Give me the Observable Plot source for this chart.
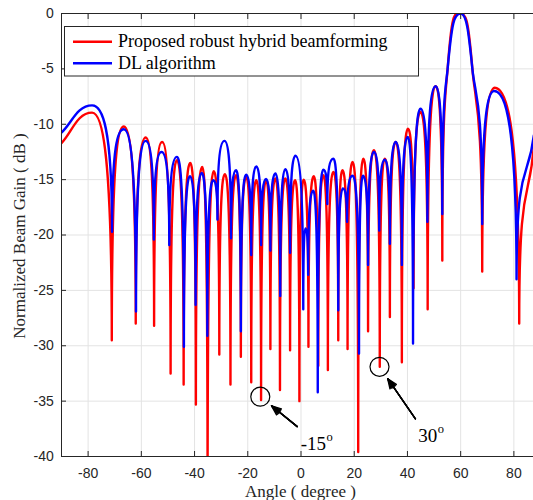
<!DOCTYPE html>
<html><head><meta charset="utf-8">
<script src="https://cdn.jsdelivr.net/npm/d3@7"></script>
<script src="https://cdn.jsdelivr.net/npm/@observablehq/plot@0.6"></script>
<style>
html,body{margin:0;padding:0;background:#fff;overflow:hidden;}
#wrap{position:relative;width:533px;height:500px;overflow:hidden;background:#fff;}
#wrap svg{max-width:none !important;}
#overlay{position:absolute;left:0;top:0;pointer-events:none;}
</style></head><body><div id="wrap"></div>
<script>
// ---- data ----
const seriesNames = ["Proposed robust hybrid beamforming", "DL algorithm"];

// key points of each curve: alternating nulls and lobe peaks (degrees, dB)
const redAngles = [-90, -78.5, -71.1, -66.6, -62.1, -58.4, -55.2, -52.2, -49.0, -46.6, -44.1, -41.6, -39.5, -37.1, -35.1, -32.8, -30.7, -28.6, -26.5, -24.4, -22.6, -20.6, -18.7, -16.8, -15.0, -13.1, -11.5, -9.6, -7.9, -5.9, -4.1, -2.2, -0.6, 1.0, 2.8, 4.8, 6.5, 8.4, 10.1, 12.2, 14.0, 15.6, 17.5, 19.4, 21.5, 23.4, 25.2, 27.4, 29.6, 31.5, 33.4, 35.6, 37.9, 40.2, 42.3, 44.9, 47.6, 50.6, 53.1, 55.1, 60.0, 64.4, 68.1, 72.8, 82.0, 87.5];
const redGains = [-11.7, -8.95, -29.5, -10.2, -28.0, -11.2, -28.2, -11.6, -32.5, -13.25, -33.5, -13.5, -35.3, -13.85, -45, -14.25, -30.8, -14.5, -33.5, -14.6, -31.0, -14.75, -33.3, -15.05, -34.9, -15.05, -30.3, -14.9, -34.0, -14.9, -30.4, -15.05, -35.0, -15.0, -30.1, -14.7, -31.8, -14.6, -32.2, -14.3, -29.5, -14.15, -30.3, -13.4, -39.6, -13.1, -28.7, -12.35, -31.9, -13.1, -27.4, -11.6, -31.5, -10.4, -24.8, -8.9, -26.7, -6.57, -22.3, -5, 0, -5, -23.3, -6.7, -28.0, -12.05];

const blueAngles = [-90, -78.5, -71.0, -66.6, -62.0, -58.4, -55.3, -52.4, -49.5, -46.6, -44.0, -41.7, -39.6, -37.3, -35.2, -33.0, -31.4, -28.75, -26.3, -24.4, -22.6, -20.6, -18.7, -16.8, -15.0, -13.1, -11.5, -9.6, -7.8, -5.9, -4.1, -2.1, 0.85, 1.7, 2.7, 4.6, 6.3, 8.4, 9.9, 12.2, 14.0, 15.75, 17.3, 19.4, 21.8, 23.3, 25.2, 27.4, 29.4, 31.5, 33.4, 35.6, 37.9, 40.1, 42.1, 44.9, 47.5, 50.6, 53.1, 55.1, 60.0, 64.4, 68.1, 72.6, 81.0, 87.5];
const blueGains = [-10.75, -8.3, -19.7, -10.45, -26.9, -11.5, -20.4, -12.5, -20.9, -12.95, -30.1, -14.7, -26.3, -14.4, -29.1, -15.06, -18.6, -11.5, -20.3, -14.15, -28.7, -14.55, -21.8, -13.8, -20.9, -14.95, -21.4, -14.45, -25.5, -14.05, -21.6, -12.85, -26.7, -19.4, -23.6, -16.0, -34.2, -14.1, -17.2, -13.1, -26.8, -15.8, -18.8, -14.65, -30.7, -14.65, -22.7, -12.5, -19.6, -13.2, -20.8, -11.6, -22.7, -11.15, -29.8, -8.6, -18.8, -6.57, -18.1, -5, 0, -5, -19.0, -7.0, -24.0, -11.0];

const xTicks = [-80, -60, -40, -20, 0, 20, 40, 60, 80];
const yTicks = [0, -5, -10, -15, -20, -25, -30, -35, -40];

// annotations: marked nulls, arrow tails, label anchors (data units)
const noteAngles = [-15.3, 29.5];
const noteGains = [-34.6, -31.9];
const noteLabels = ["-15", "30"];
const noteTailAngles = [-1.4, 43.0];
const noteTailGains = [-37.3, -36.6];
const noteTextAngles = [9.4, 51.2];
const noteTextGains = [-39.4, -38.65];

// ---- tables ----
const red = redAngles.map((a, i) => ({angle: a, gain: redGains[i]}));
const blue = blueAngles.map((a, i) => ({angle: a, gain: blueGains[i]}));
const notes = noteAngles.map((a, i) => ({
  angle: a, gain: noteGains[i], label: noteLabels[i],
  tailAngle: noteTailAngles[i], tailGain: noteTailGains[i],
  textAngle: noteTextAngles[i], textGain: noteTextGains[i]
}));

// custom d3-style curve: vertical tangents at nulls, horizontal at lobe peaks
const A = 0.85, B = 0.5;
function lobeCurve(context) {
  let pts = [];
  return {
    areaStart() {}, areaEnd() {},
    lineStart() { pts = []; },
    point(x, y) { pts.push([+x, +y]); },
    lineEnd() {
      const n = pts.length;
      if (!n) return;
      const kind = pts.map((p, i) => {
        if (i === 0 || i === n - 1) return "end";
        const a = pts[i - 1][1], b = pts[i + 1][1];
        if (p[1] < a && p[1] < b) return "peak";
        if (p[1] > a && p[1] > b) return "null";
        return "mid";
      });
      const slope = i => (pts[i + 1][1] - pts[i - 1][1]) / (pts[i + 1][0] - pts[i - 1][0]);
      context.moveTo(pts[0][0], pts[0][1]);
      for (let i = 0; i < n - 1; i++) {
        const [x0, y0] = pts[i], [x1, y1] = pts[i + 1];
        const dx = x1 - x0, dy = y1 - y0;
        let c1x, c1y, c2x, c2y;
        switch (kind[i]) {
          case "peak": c1x = x0 + B * dx; c1y = y0; break;
          case "null": c1x = x0; c1y = y0 + A * dy; break;
          case "mid": { const s = slope(i); c1x = x0 + dx / 3; c1y = y0 + s * dx / 3; break; }
          default: c1x = x0 + dx / 3; c1y = y0 + dy / 3;
        }
        switch (kind[i + 1]) {
          case "peak": c2x = x1 - B * dx; c2y = y1; break;
          case "null": c2x = x1; c2y = y1 - A * dy; break;
          case "mid": { const s = slope(i + 1); c2x = x1 - dx / 3; c2y = y1 - s * dx / 3; break; }
          default: c2x = x1 - dx / 3; c2y = y1 - dy / 3;
        }
        context.bezierCurveTo(c1x, c1y, c2x, c2y, x1, y1);
      }
    }
  };
}

const serif = "'Liberation Serif','Times New Roman',Times,serif";
const axisColor = "#262626";
const colors = ["#ff0000", "#0000ff"];
const lineW = 2.4;

// filled-looking arrow heads: several arrows with narrowing head angles
const arrowMarks = [44, 32, 20, 8].map(angle =>
  Plot.arrow(notes, {x1: "tailAngle", y1: "tailGain", x2: "angle", y2: "gain", insetEnd: 14.5, headLength: 11, headAngle: angle, strokeWidth: 1.4, stroke: "black"})
);

const plot = Plot.plot({
  width: 560, height: 500,
  marginLeft: 61, marginRight: 20, marginTop: 13, marginBottom: 44,
  x: {domain: [-90, 90]},
  y: {domain: [-40, 0]},
  style: {fontFamily: "'Liberation Sans',Arial,Helvetica,sans-serif", fontSize: "14px", color: axisColor, background: "white", overflow: "visible", maxWidth: "none"},
  marks: [
    Plot.gridX({ticks: xTicks, stroke: "#e3e3e3", strokeOpacity: 1}),
    Plot.gridY({ticks: yTicks, stroke: "#e3e3e3", strokeOpacity: 1}),
    Plot.line(red, {x: "angle", y: "gain", stroke: colors[0], strokeWidth: lineW, curve: lobeCurve, clip: true}),
    Plot.line(blue, {x: "angle", y: "gain", stroke: colors[1], strokeWidth: lineW, curve: lobeCurve, clip: true}),
    Plot.frame({stroke: axisColor, strokeWidth: 1}),
    Plot.axisX({anchor: "bottom", ticks: xTicks, tickSize: -5, tickPadding: 17, tickFormat: d => String(d), label: null, stroke: axisColor}),
    Plot.axisX({anchor: "top", ticks: xTicks, tickSize: -5, tickFormat: () => "", label: null, stroke: axisColor}),
    Plot.axisY({anchor: "left", ticks: yTicks, tickSize: -5, tickPadding: 12.7, tickFormat: d => String(d), label: null, stroke: axisColor}),
    Plot.axisY({anchor: "right", ticks: yTicks, tickSize: -5, tickFormat: () => "", label: null, stroke: axisColor}),
    Plot.dot(notes, {x: "angle", y: "gain", r: 9.5, stroke: "black", strokeWidth: 1.2, fill: "none"}),
    ...arrowMarks,
    Plot.text(notes, {x: "textAngle", y: "textGain", text: "label", textAnchor: "end", lineAnchor: "bottom", fontSize: 19, fontFamily: serif, fill: "black"}),
    Plot.text(notes, {x: "textAngle", y: "textGain", text: () => "o", textAnchor: "start", lineAnchor: "bottom", dx: 0.5, dy: -9, fontSize: 12.5, fontFamily: serif, fill: "black"})
  ]
});

const wrap = document.getElementById("wrap");
plot.style.maxWidth = "none";
plot.style.width = "560px";
plot.style.height = "500px";
wrap.appendChild(plot);

// overlay: legend and axis titles
const ov = d3.select(wrap).append("svg").attr("id", "overlay").attr("width", 533).attr("height", 500);
ov.append("rect").attr("x", 64.5).attr("y", 26.5).attr("width", 354).attr("height", 49.5)
  .attr("fill", "white").attr("stroke", axisColor).attr("stroke-width", 1);
const rowY = [41.7, 63.3];
seriesNames.forEach((name, i) => {
  ov.append("line").attr("x1", 73).attr("x2", 112).attr("y1", rowY[i]).attr("y2", rowY[i])
    .attr("stroke", colors[i]).attr("stroke-width", lineW);
  ov.append("text").attr("x", 118).attr("y", rowY[i] + 5.6).text(name)
    .attr("font-family", serif).attr("font-size", 18).attr("fill", "black");
});
ov.append("text").attr("x", 300.5).attr("y", 496.5).attr("text-anchor", "middle")
  .attr("font-family", serif).attr("font-size", 17).attr("fill", axisColor).text("Angle ( degree )");
ov.append("text").attr("transform", "translate(24.5,236) rotate(-90)").attr("text-anchor", "middle")
  .attr("font-family", serif).attr("font-size", 17).attr("fill", axisColor).text("Normalized Beam Gain ( dB )");
</script></body></html>
